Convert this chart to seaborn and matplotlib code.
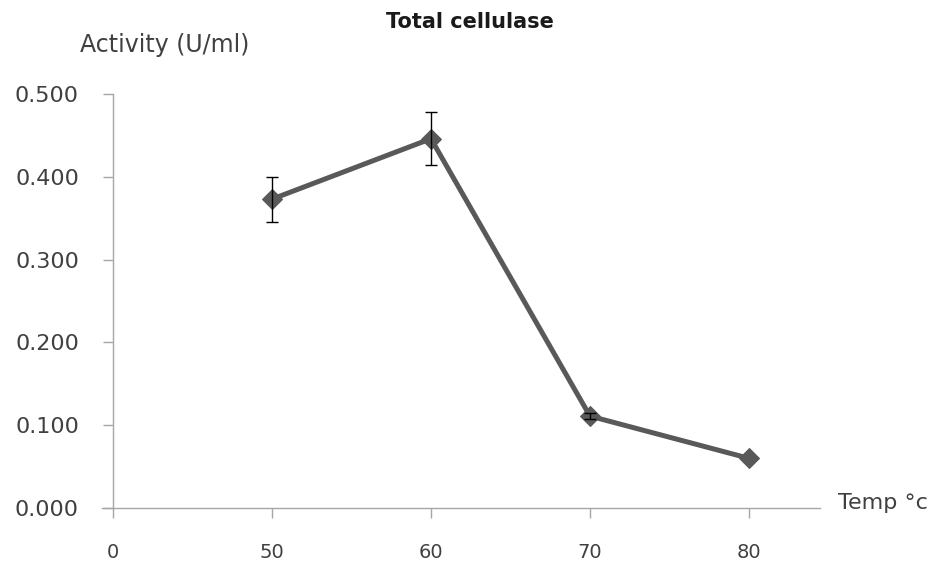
import matplotlib
matplotlib.use("Agg")
from matplotlib import pyplot as plt
import seaborn as sns
import pandas as pd

# data
temps = ["50", "60", "70", "80"]
activity = [0.373, 0.446, 0.111, 0.060]
err = [0.027, 0.032, 0.004, 0.0]
xtick_labels = ["0", "50", "60", "70", "80"]
ytick_values = [0.0, 0.1, 0.2, 0.3, 0.4, 0.5]

sns.set_theme(style="white")
plt.rcParams["font.family"] = ["DejaVu Sans"]

df = pd.DataFrame({"pos": range(1, len(temps) + 1), "activity": activity, "err": err})

W, H = 929, 563
fig = plt.figure(figsize=(W / 100, H / 100), dpi=100)
ax = fig.add_axes([102 / W, (H - 508) / H, 718 / W, 414 / H])

axis_grey = "#a6a6a6"
text_col = "#404040"

sns.lineplot(data=df, x="pos", y="activity", ax=ax, color="#595959",
             linewidth=3.6, marker="D", markersize=10.5, markeredgecolor="#595959",
             clip_on=False, zorder=3)
eb = df[df["err"] > 0]
ax.errorbar(eb["pos"], eb["activity"], yerr=eb["err"], fmt="none",
            ecolor="black", elinewidth=1.0, capsize=4.5, capthick=1.0,
            zorder=4, clip_on=False)

ax.set_xlim(-0.069, 4.447)
ax.set_ylim(0, 0.5)

for s in ["top", "right"]:
    ax.spines[s].set_visible(False)
ax.spines["left"].set_position(("data", 0))
for s in ["left", "bottom"]:
    ax.spines[s].set_color(axis_grey)
    ax.spines[s].set_linewidth(1.0)

ax.set_xticks(range(len(xtick_labels)))
ax.set_xticklabels(xtick_labels)
ax.set_yticks(ytick_values)
ax.set_yticklabels([f"{v:.3f}" for v in ytick_values])
ax.tick_params(axis="y", direction="out", length=7.5, width=1.0, color=axis_grey,
               pad=17, labelsize=16, labelcolor=text_col, left=True)
ax.tick_params(axis="x", direction="out", length=7.5, width=1.0, color=axis_grey,
               pad=18, labelsize=14, labelcolor=text_col, bottom=True)
ax.set_xlabel("")
ax.set_ylabel("")

fig.text(470 / W, 1 - 22 / H, "Total cellulase", ha="center", va="center",
         fontsize=15, fontweight="semibold", color="#1a1a1a")
fig.text(80 / W, 1 - 45 / H, "Activity (U/ml)", ha="left", va="center",
         fontsize=17, color=text_col)
fig.text(838 / W, 1 - 503 / H, "Temp °c", ha="left", va="center",
         fontsize=16, color=text_col)

fig.savefig("out.png", dpi=100)
